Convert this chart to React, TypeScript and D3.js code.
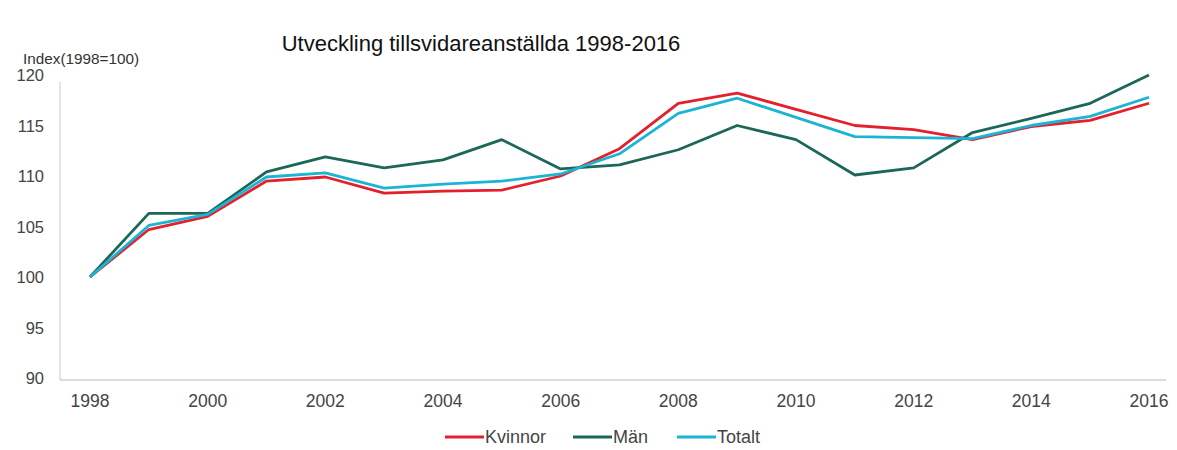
import React from "react";
import * as d3 from "d3";

const years = [1998,1999,2000,2001,2002,2003,2004,2005,2006,2007,2008,2009,2010,2011,2012,2013,2014,2015,2016];
const kvinnor = [100,104.7,106.0,109.5,109.9,108.3,108.5,108.6,110.0,112.7,117.2,118.2,116.6,115.0,114.6,113.6,114.9,115.5,117.2];
const man = [100,106.3,106.3,110.4,111.9,110.8,111.6,113.6,110.7,111.1,112.6,115.0,113.6,110.1,110.8,114.3,115.7,117.2,120.0];
const totalt = [100,105.1,106.2,109.9,110.3,108.8,109.2,109.5,110.2,112.2,116.2,117.7,115.8,113.9,113.8,113.7,115.0,115.9,117.8];
const yTicks = [90,95,100,105,110,115,120];
const xTicks = [1998,2000,2002,2004,2006,2008,2010,2012,2014,2016];

const series = [
  { name: "Kvinnor", values: kvinnor, color: "#e3202b" },
  { name: "Män", values: man, color: "#1b6758" },
  { name: "Totalt", values: totalt, color: "#1cb4d4" },
];

export default function App() {
  const W = 1177, H = 450;
  const x = d3.scaleLinear().domain([1998, 2016]).range([90, 1149]);
  const y = d3.scaleLinear().domain([90, 120]).range([378, 75]);
  const line = d3.line<number>().x((_, i) => x(years[i])).y(d => y(d));
  const font = "Arial, 'Liberation Sans', sans-serif";
  const legendX = [445, 573, 677];
  return (
    <svg width={W} height={H} style={{ position: "absolute", left: 0, top: 0, background: "#fff" }} fontFamily={font}>
      <text x={481} y={51} textAnchor="middle" fontSize={22} fill="#111">Utveckling tillsvidareanställda 1998-2016</text>
      <text x={23} y={64} fontSize={14} fill="#333" textLength={116} lengthAdjust="spacingAndGlyphs">Index(1998=100)</text>
      <line x1={60} x2={60} y1={82} y2={380} stroke="#c8c8c8" strokeWidth={1} />
      <line x1={60} x2={1166} y1={380} y2={380} stroke="#d0d0d0" strokeWidth={1.5} />
      {yTicks.map(t => (
        <text key={t} x={44} y={y(t) + 6} textAnchor="end" fontSize={16.5} fill="#444">{t}</text>
      ))}
      {xTicks.map(t => (
        <text key={t} x={x(t)} y={407} textAnchor="middle" fontSize={17.5} fill="#444">{t}</text>
      ))}
      {series.map(s => (
        <path key={s.name} d={line(s.values) || ""} fill="none" stroke={s.color} strokeWidth={2.8} strokeLinejoin="round" />
      ))}
      {series.map((s, i) => (
        <g key={s.name}>
          <line x1={legendX[i]} x2={legendX[i] + 39} y1={437} y2={437} stroke={s.color} strokeWidth={2.8} />
          <text x={legendX[i] + 40} y={443} fontSize={18} fill="#444">{s.name}</text>
        </g>
      ))}
    </svg>
  );
}
